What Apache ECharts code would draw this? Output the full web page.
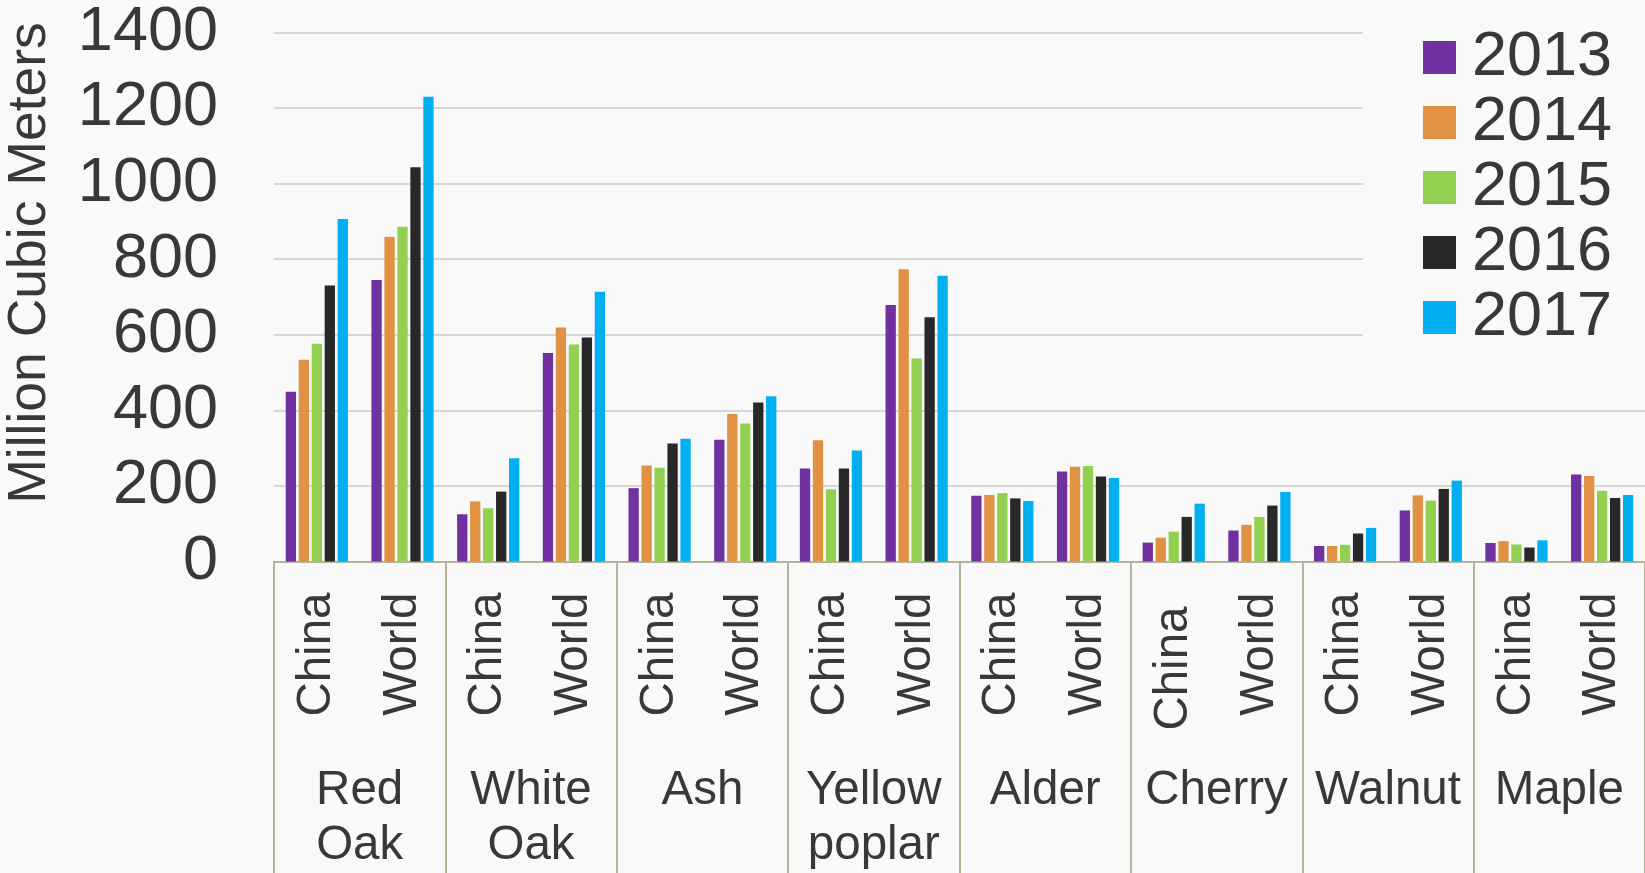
<!DOCTYPE html>
<html>
<head>
<meta charset="utf-8">
<script src="https://cdn.jsdelivr.net/npm/echarts@6/dist/echarts.min.js"></script>
<style>
html,body{margin:0;padding:0;background:#f9f9f9;}
#c{width:1645px;height:873px;}
</style>
</head>
<body>
<div id="c"></div>
<script>
var regions = ["China","World","China","World","China","World","China","World","China","World","China","World","China","World","China","World"];
var species = ["Red\nOak","White\nOak","Ash","Yellow\npoplar","Alder","Cherry","Walnut","Maple"];
var years = ["2013","2014","2015","2016","2017"];
var v2013 = [449, 745, 125, 552, 194, 322, 246, 679, 174, 238, 50, 82, 41, 135, 49, 230];
var v2014 = [534, 859, 159, 619, 254, 390, 321, 773, 176, 251, 63, 97, 41, 175, 54, 226];
var v2015 = [576, 886, 141, 574, 248, 365, 191, 537, 181, 253, 79, 118, 44, 161, 45, 187];
var v2016 = [730, 1043, 185, 593, 312, 421, 246, 646, 167, 225, 118, 148, 74, 192, 37, 168];
var v2017 = [906, 1230, 273, 714, 325, 437, 294, 756, 160, 221, 153, 184, 89, 214, 56, 176];
var yTicks = [0, 200, 400, 600, 800, 1000, 1200, 1400];

var colors = ["#7030a0", "#e09142", "#92d050", "#282828", "#00b0f0"];
var values = [v2013, v2014, v2015, v2016, v2017];
var FONT = "'Liberation Sans', Arial, sans-serif";
var TXT = "#383838";
var AXC = "#b3b39b";

// the Cherry/China label sits a little lower in the reference
var regionItems = regions.map(function (r, i) {
  return i === 10 ? { value: r, textStyle: { padding: [0, 14, 0, 0] } } : r;
});

var chart = echarts.init(document.getElementById('c'));
var series = years.map(function (y, i) {
  return {
    name: y, type: 'bar', xAxisIndex: 0, yAxisIndex: 0,
    data: values[i], barWidth: 10.3, barGap: '26%',
    itemStyle: { color: colors[i] }
  };
});
chart.setOption({
  backgroundColor: '#f9f9f9',
  animation: false,
  color: colors,
  textStyle: { fontFamily: FONT },
  grid: { left: 274, right: 0, top: 32.4, bottom: 311, containLabel: false },
  legend: {
    data: years, orient: 'vertical', left: 1363, top: 16,
    padding: [10, 120, 10, 60],
    backgroundColor: '#f9f9f9',
    icon: 'rect', itemWidth: 33, itemHeight: 33, itemGap: 2,
    textStyle: { fontSize: 63, lineHeight: 62, color: TXT, fontFamily: FONT, padding: [0, 0, 0, 11] }
  },
  xAxis: [{
    type: 'category', data: regionItems, position: 'bottom',
    axisLine: { show: true, lineStyle: { color: AXC, width: 2 } },
    axisTick: { show: false },
    axisLabel: { interval: 0, rotate: 90, margin: 31, fontSize: 47.5, color: TXT, fontFamily: FONT }
  }, {
    type: 'category', data: species, position: 'bottom', offset: 0,
    axisLine: { show: true, lineStyle: { color: AXC, width: 2 } },
    axisTick: { show: true, interval: 0, length: 320, lineStyle: { color: AXC, width: 2 } },
    axisLabel: { interval: 0, margin: 201.5, fontSize: 47.5, lineHeight: 55, color: TXT, fontFamily: FONT }
  }],
  yAxis: {
    type: 'value', min: 0, max: 1400, interval: 200,
    axisLine: { show: false }, axisTick: { show: false },
    splitLine: { show: true, lineStyle: { color: '#d6d6d6', width: 2 } },
    axisLabel: { fontSize: 63, color: TXT, margin: 56, fontFamily: FONT,
      formatter: function (v) { return yTicks.indexOf(v) >= 0 ? String(v) : ''; } }
  },
  graphic: [{
    type: 'text', x: 30, y: 263, rotation: Math.PI / 2,
    style: { text: 'Million Cubic Meters', fontSize: 53.5, fill: TXT, fontFamily: FONT,
      align: 'center', verticalAlign: 'middle' }
  }],
  series: series
});
</script>
</body>
</html>
